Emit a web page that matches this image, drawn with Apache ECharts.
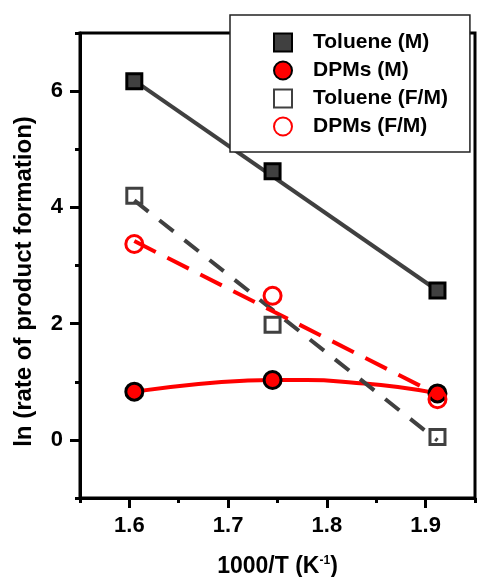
<!DOCTYPE html>
<html>
<head>
<meta charset="utf-8">
<script src="https://cdn.jsdelivr.net/npm/echarts@6/dist/echarts.min.js"></script>
<style>html,body{margin:0;padding:0;background:#fff}#c{width:477px;height:577px}</style>
</head>
<body>
<div id="c"></div>
<script>
// Data
const xVals = [1.605, 1.745, 1.912];
const tolueneM = [6.17, 4.62, 2.57];
const dpmsM = [0.83, 1.03, 0.80];
const tolueneFM = [4.20, 1.98, 0.05];
const dpmsFM = [3.37, 2.48, 0.70];

// Fit lines
const fitX = [1.605, 1.912];
const tolueneMFit = [6.18, 2.57];
const tolueneFMFit = [4.12, -0.01];
const dpmsFMFit = [3.42, 0.78];
const dpmsMCurveX = [1.605, 1.67, 1.72, 1.745, 1.78, 1.83, 1.872, 1.912];
const dpmsMCurveY = [0.83, 0.96, 1.02, 1.03, 1.03, 0.98, 0.91, 0.80];

// Tick labels
const xTickLabels = [1.6, 1.7, 1.8, 1.9];
const yTickLabels = [0, 2, 4, 6];

const seriesNames = ['Toluene (M)', 'DPMs (M)', 'Toluene (F/M)', 'DPMs (F/M)'];

const zip = (xs, ys) => xs.map((x, i) => [x, ys[i]]);
const FONT = "'Liberation Sans', Arial, sans-serif";
const DARK = '#404040';
const RED = '#ff0000';

const chart = echarts.init(document.getElementById('c'), null, {renderer: 'canvas'});
const option = {
  animation: false,
  backgroundColor: '#ffffff',
  textStyle: {fontFamily: FONT},
  grid: [
    {left: 80, right: 2, top: 33, bottom: 79, outerBoundsMode: 'none', containLabel: false, show: true, borderColor: '#000', borderWidth: 3, backgroundColor: '#fff'},
    {left: 80, right: 2, top: 33, bottom: 79, outerBoundsMode: 'none', containLabel: false}
  ],
  legend: {
    data: seriesNames,
    orient: 'vertical',
    left: 230,
    top: 15,
    padding: [17, 22, 15, 43],
    itemWidth: 18,
    itemHeight: 18,
    itemGap: 7,
    backgroundColor: '#ffffff',
    borderColor: '#222',
    borderWidth: 1.5,
    textStyle: {fontFamily: FONT, fontSize: 21, fontWeight: 'bold', color: '#000', lineHeight: 21, padding: [0, 0, 0, 16]},
    z: 10
  },
  xAxis: [
    {
      gridIndex: 0, type: 'value', min: 1.55, max: 1.95, interval: 0.05,
      axisLine: {onZero: false, lineStyle: {color: '#000', width: 3}},
      axisTick: {customValues: xTickLabels, length: 10, lineStyle: {color: '#000', width: 3}},
      axisLabel: {customValues: xTickLabels, formatter: v => v.toFixed(1), margin: 17, fontFamily: FONT, fontSize: 22, fontWeight: 'bold', color: '#000'},
      splitLine: {show: false},
      name: '{a|1000/T (K}{s|-1}{a|)}',
      nameLocation: 'middle',
      nameGap: 57,
      nameTextStyle: {
        rich: {
          a: {fontFamily: FONT, fontSize: 23, fontWeight: 'bold', color: '#000'},
          s: {fontFamily: FONT, fontSize: 12, fontWeight: 'bold', color: '#000', padding: [0, 0, 12, 0]}
        }
      }
    },
    {
      gridIndex: 1, type: 'value', min: 1.55, max: 1.95, interval: 0.05,
      axisLine: {show: false, onZero: false},
      axisTick: {show: true, length: 5, lineStyle: {color: '#000', width: 3}},
      axisLabel: {show: false},
      splitLine: {show: false}
    }
  ],
  yAxis: [
    {
      gridIndex: 0, type: 'value', min: -1, max: 7, interval: 1,
      axisLine: {show: true, onZero: false, lineStyle: {color: '#000', width: 3}},
      axisTick: {show: true, customValues: yTickLabels, length: 10, lineStyle: {color: '#000', width: 3}},
      axisLabel: {customValues: yTickLabels, margin: 17, fontFamily: FONT, fontSize: 22, fontWeight: 'bold', color: '#000'},
      splitLine: {show: false},
      name: 'ln (rate of product formation)',
      nameLocation: 'middle',
      nameGap: 44,
      nameTextStyle: {fontFamily: FONT, fontSize: 24, fontWeight: 'bold', color: '#000', padding: [0, 32, 0, 0]}
    },
    {
      gridIndex: 1, type: 'value', min: -1, max: 7, interval: 1,
      axisLine: {show: false, onZero: false},
      axisTick: {show: true, length: 5, lineStyle: {color: '#000', width: 3}},
      axisLabel: {show: false},
      splitLine: {show: false}
    }
  ],
  series: [
    {type: 'line', data: zip(fitX, tolueneMFit), symbol: 'none', silent: true, z: 2,
      lineStyle: {color: DARK, width: 4}},
    {type: 'line', data: zip(dpmsMCurveX, dpmsMCurveY), symbol: 'none', smooth: 0.5, silent: true, z: 2,
      lineStyle: {color: RED, width: 4}},
    {type: 'line', data: zip(fitX, tolueneFMFit), symbol: 'none', silent: true, z: 2,
      lineStyle: {color: DARK, width: 4, type: [18, 14]}},
    {type: 'line', data: zip(fitX, dpmsFMFit), symbol: 'none', silent: true, z: 2,
      lineStyle: {color: RED, width: 4, type: [24, 13]}},
    {name: seriesNames[0], type: 'scatter', data: zip(xVals, tolueneM), symbol: 'rect', symbolSize: 15, z: 3,
      itemStyle: {color: DARK, borderColor: '#000', borderWidth: 3, opacity: 1}},
    {name: seriesNames[1], type: 'scatter', data: zip(xVals, dpmsM), symbol: 'circle', symbolSize: 17, z: 3,
      itemStyle: {color: RED, borderColor: '#000', borderWidth: 3, opacity: 1}},
    {name: seriesNames[2], type: 'scatter', data: zip(xVals, tolueneFM), symbol: 'rect', symbolSize: 15, z: 3,
      itemStyle: {color: 'rgba(255,255,255,0)', borderColor: DARK, borderWidth: 3, opacity: 1}},
    {name: seriesNames[3], type: 'scatter', data: zip(xVals, dpmsFM), symbol: 'circle', symbolSize: 17, z: 3,
      itemStyle: {color: 'rgba(255,255,255,0)', borderColor: RED, borderWidth: 3, opacity: 1}}
  ]
};
chart.setOption(option);
</script>
</body>
</html>
